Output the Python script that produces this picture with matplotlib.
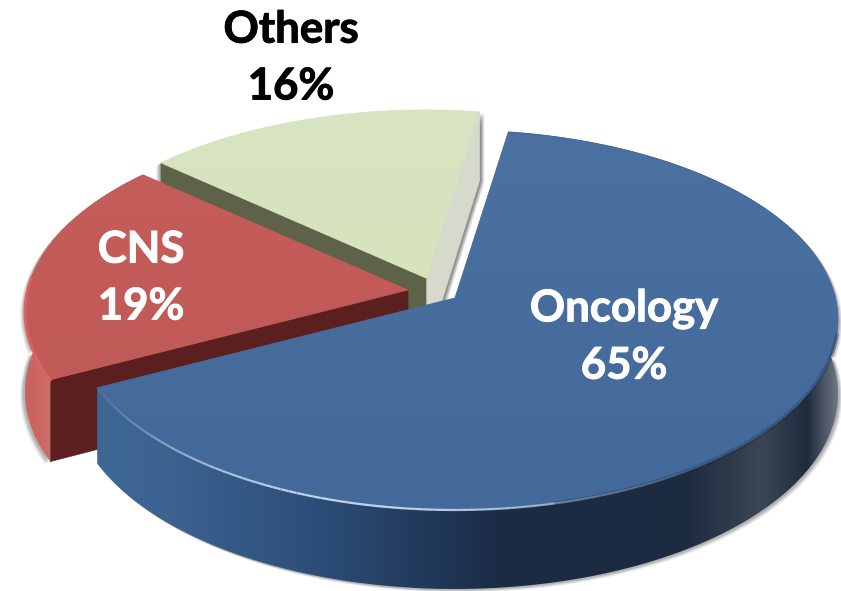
import numpy as np
import matplotlib
matplotlib.use("Agg")
import matplotlib.pyplot as plt
import matplotlib.patheffects as pe
from matplotlib.colors import LinearSegmentedColormap, to_rgb
from matplotlib.collections import LineCollection
from matplotlib.patches import Polygon

# Chart data
labels = ["Oncology", "CNS", "Others"]
shares = [65, 19, 16]
label_colors = ["white", "white", "black"]

# Pie geometry, in pixels of the 841x591 picture
CX, CY, RX, RY = 455, 320, 383, 190
TILT = 0.116
START = 81
offsets = [(0, 0), (-47, -8), (-29, -20)]
extra_depth = [0, 6, 0]
label_pos = [(624, 337), (141, 278), (291, 58)]

top_colors = [("#4a71a1", "#43699a"), ("#c55d5a", "#c05a57"), ("#d9e4c3", "#d6e3bc")]
side_colors = [
    [(0.0, "#3f6897"), (0.1, "#3c6290"), (0.3, "#2c4d78"), (0.55, "#1a2b44"),
     (0.8, "#1e2c40"), (0.9, "#3b4656"), (0.96, "#1f2b3c"), (1.0, "#6b7480")],
    [(0.0, "#c9605c"), (0.4, "#d27a76"), (0.75, "#cf6a66"), (1.0, "#c4524f")],
    [(0.0, "#d6dccb"), (1.0, "#d6dccb")],
]
wall_colors = ["#1a2b44", "#5c1f1f", "#5d6249"]
right_wall = "#d5dacc"


def project(theta, offset):
    # tilted disc: the pie centre sits above the centre of the ellipse
    t = np.radians(theta)
    u, v = np.cos(t), np.sin(t)
    w = 1 + TILT * v
    up = u * np.sqrt(1 - TILT ** 2) / w
    vp = (v + TILT) / w
    x = CX + RX * up + offset[0]
    y = CY - RY * vp + offset[1]
    return x, y, 74 - 5 * vp


def gradient_fill(ax, xy, cmap, vertical, z):
    x0, y0 = xy.min(axis=0)
    x1, y1 = xy.max(axis=0)
    ramp = np.linspace(0, 1, 256)
    ramp = ramp.reshape(-1, 1) if vertical else ramp.reshape(1, -1)
    im = ax.imshow(ramp, extent=[x0, x1, y1, y0], aspect="auto", cmap=cmap,
                   vmin=0, vmax=1, zorder=z, interpolation="bilinear", origin="upper")
    im.set_clip_path(Polygon(xy, closed=True, transform=ax.transData))


fig = plt.figure(figsize=(8.41, 5.91), dpi=100)
ax = fig.add_axes([0, 0, 1, 1])
ax.axis("off")

# angles of each slice, clockwise from the start angle
edges = START - np.concatenate([[0], np.cumsum(shares)]) * 3.6
slices = []
for i in range(len(shares)):
    th = np.linspace(edges[i], edges[i + 1], 200)
    x, y, d = project(th, offsets[i])
    ax0 = CX + offsets[i][0]
    ay0 = CY - RY * TILT + offsets[i][1]
    slices.append((x, y, d + extra_depth[i], ax0, ay0))

# back to front: Others, CNS, Oncology
z = 2
for i in [2, 1, 0]:
    x, y, d, ax0, ay0 = slices[i]
    d0 = 74 - 5 * TILT + extra_depth[i]
    top = np.column_stack([np.r_[ax0, x], np.r_[ay0, y]])
    side = np.column_stack([np.r_[x, x[::-1]], np.r_[y, (y + d)[::-1]]])

    # soft grey shadow under the slice
    for step, alpha in [(5, 0.10), (4, 0.16), (3, 0.22), (2, 0.30)]:
        shade = side + [step * 0.9 if i == 0 else -step, step * 0.7]
        ax.add_patch(Polygon(shade, closed=True, fc="#808080", ec="none", alpha=alpha, zorder=z))
        if i == 2:
            shade = np.array([[ax0, ay0 + d0], [x[-1], y[-1] + d[-1]], [x[-1], y[-1]], [ax0, ay0]]) + [step, step * 0.4]
            ax.add_patch(Polygon(shade, closed=True, fc="#707070", ec="none", alpha=alpha * 1.5, zorder=z))
    z += 1

    # flat walls of the cut
    if i == 2:
        wall = np.array([[ax0, ay0], [x[-1], y[-1]], [x[-1], y[-1] + d[-1]], [ax0, ay0 + d0]])
        ax.add_patch(Polygon(wall, closed=True, fc=right_wall, ec=right_wall, lw=0.5, zorder=z))
    if i != 0:
        wall = np.array([[ax0, ay0], [x[0], y[0]], [x[0], y[0] + d[0]], [ax0, ay0 + d0]])
        ax.add_patch(Polygon(wall, closed=True, fc=wall_colors[i], ec=wall_colors[i], lw=0.5, zorder=z))
    z += 1

    # outer rim
    if i != 2:
        cmap = LinearSegmentedColormap.from_list("side%d" % i, side_colors[i])
        gradient_fill(ax, side, cmap, False, z)
    z += 1

    # top face
    cmap = LinearSegmentedColormap.from_list("top%d" % i, top_colors[i])
    gradient_fill(ax, top, cmap, True, z)
    ax.add_patch(Polygon(top, closed=True, fc="none", ec=top_colors[i][1], lw=0.6, zorder=z))
    z += 1

# bright edge along the front of the Oncology top
x, y = slices[0][0], slices[0][1]
pts = np.column_stack([x, y])[::-1][:90]
segs = np.stack([pts[:-1], pts[1:]], axis=1)
fade = np.sin(np.linspace(0.05, 1.0, len(segs)) * np.pi) ** 1.5
light = np.array(to_rgb("#c9dcf2"))
rgba = np.column_stack([np.tile(light, (len(segs), 1)), fade * 0.95])
ax.add_collection(LineCollection(segs, colors=rgba, linewidths=1.6, zorder=z))

# darker fall-off on the right of the Oncology rim
pts = np.column_stack([x, y])[78:135]
segs = np.stack([pts[:-1], pts[1:]], axis=1)
rgba = np.column_stack([np.tile(to_rgb("#1a2b44"), (len(segs), 1)), np.full(len(segs), 0.3)])
ax.add_collection(LineCollection(segs, colors=rgba, linewidths=3, zorder=z))

# brighter edge on the CNS rim
x, y = slices[1][0], slices[1][1]
ax.plot(x[:90], y[:90], color="#dc6460", lw=2, zorder=z)

for name, share, col, pos in zip(labels, shares, label_colors, label_pos):
    t = ax.text(pos[0], pos[1], "%s\n%d%%" % (name, share), color=col, ha="center", va="center",
                fontfamily="Lato", fontweight="bold", fontsize=31.5, linespacing=1.51, zorder=z + 5)
    t.set_path_effects([pe.withStroke(linewidth=0.7, foreground=col)])

ax.set_xlim(0, 841)
ax.set_ylim(591, 0)
fig.savefig("out.png", dpi=100, facecolor="white")
